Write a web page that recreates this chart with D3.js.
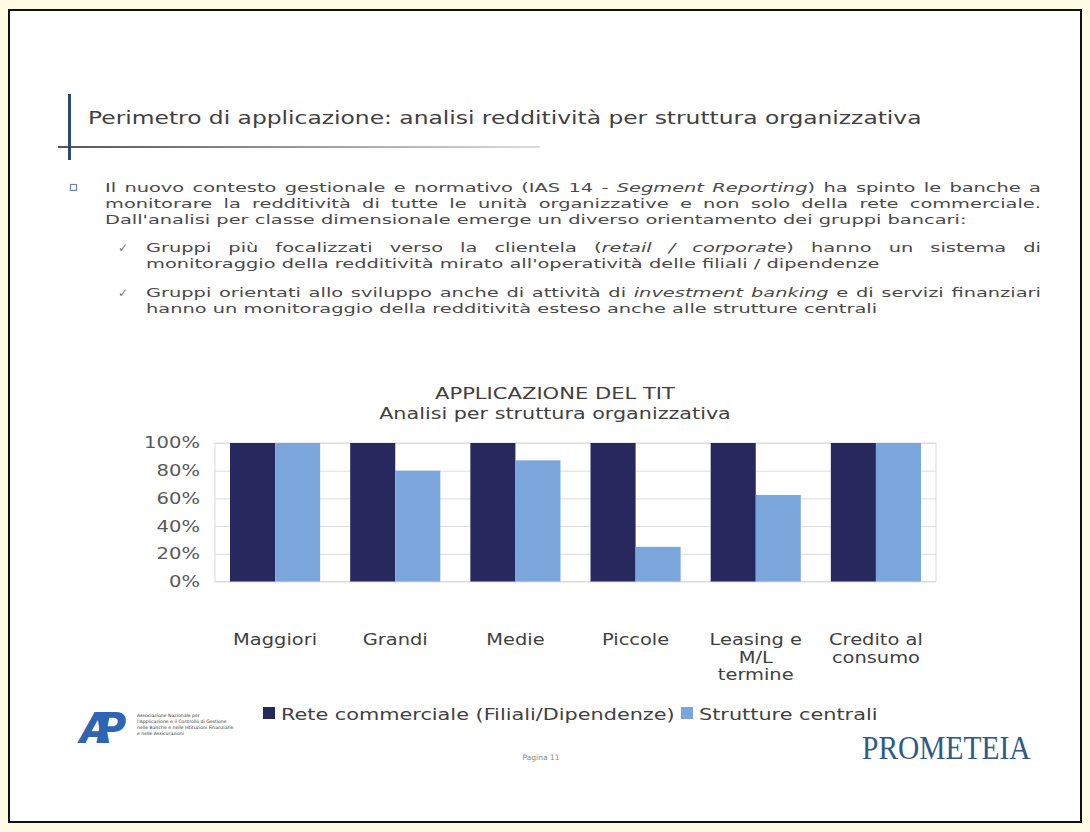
<!DOCTYPE html>
<html><head><meta charset="utf-8">
<script src="https://cdn.jsdelivr.net/npm/d3@7"></script>
<style>body{margin:0;background:#fffbe4;} svg{display:block}</style>
</head><body>
<svg id="c" width="1090" height="832"></svg>
<script>
// ---------- DATA ----------
const categories = ["Maggiori", "Grandi", "Medie", "Piccole", "Leasing e\nM/L\ntermine", "Credito al\nconsumo"];
const seriesNames = ["Rete commerciale (Filiali/Dipendenze)", "Strutture centrali"];
const reteCommerciale = [1, 1, 1, 1, 1, 1];
const struttureCentrali = [1, 0.80, 0.875, 0.25, 0.625, 1];
const yTicks = [0, 0.2, 0.4, 0.6, 0.8, 1];
const chartTitle = "APPLICAZIONE DEL TIT";
const chartSubtitle = "Analisi per struttura organizzativa";
const slideTitle = "Perimetro di applicazione: analisi redditività per struttura organizzativa";
const para1 = [
  [["Il nuovo contesto gestionale e normativo (IAS 14 - ", 0], ["Segment Reporting", 1], [") ha spinto le banche a", 0]],
  [["monitorare la redditività di tutte le unità organizzative e non solo della rete commerciale.", 0]],
  [["Dall'analisi per classe dimensionale emerge un diverso orientamento dei gruppi bancari:", 0]]
];
const check1 = [
  [["Gruppi più focalizzati verso la clientela (", 0], ["retail / corporate", 1], [") hanno un sistema di", 0]],
  [["monitoraggio della redditività mirato all'operatività delle filiali / dipendenze", 0]]
];
const check2 = [
  [["Gruppi orientati allo sviluppo anche di attività di ", 0], ["investment banking", 1], [" e di servizi finanziari", 0]],
  [["hanno un monitoraggio della redditività esteso anche alle strutture centrali", 0]]
];
const footerPage = "Pagina 11";
const brand = "PROMETEIA";
const logoText = ["Associazione Nazionale per", "l'Applicazione e il Controllo di Gestione", "nelle Banche e nelle Istituzioni Finanziarie", "e nelle Assicurazioni"];

// ---------- HELPERS ----------
const FONT = "'DejaVu Sans', Verdana, sans-serif";
const svg = d3.select("#c");
function measure(str, size, italic, family) {
  const t = svg.append("text").attr("font-family", family || FONT).attr("font-size", size)
    .attr("font-style", italic ? "italic" : "normal").text(str);
  const w = t.node().getComputedTextLength(); t.remove(); return w;
}
function fitSize(str, target, family) { return 20 * target / measure(str, 20, false, family); }
function wideText(x0, y0, str, size, sx, anchor, fill) {
  return svg.append("g").attr("transform", `translate(${x0},${y0}) scale(${sx},1)`)
    .append("text").attr("font-family", FONT).attr("font-size", size).attr("text-anchor", anchor || "start")
    .attr("fill", fill || "#404040").text(str);
}

// frame
svg.append("rect").attr("x", 0).attr("y", 0).attr("width", 1090).attr("height", 832).attr("fill", "#fffbe4");
svg.append("rect").attr("x", 9).attr("y", 10).attr("width", 1072).attr("height", 812)
  .attr("fill", "#fff").attr("stroke", "#111").attr("stroke-width", 2);

// slide header
const grad = svg.append("defs").append("linearGradient").attr("id", "hl");
grad.append("stop").attr("offset", "0%").attr("stop-color", "#555");
grad.append("stop").attr("offset", "100%").attr("stop-color", "#ddd");
svg.append("rect").attr("x", 58).attr("y", 146).attr("width", 482).attr("height", 2).attr("fill", "url(#hl)");
svg.append("rect").attr("x", 68).attr("y", 94).attr("width", 3).attr("height", 66).attr("fill", "#2c4a6e");
const tSize = 17.5;
wideText(88, 124, slideTitle, tSize, 834 / measure(slideTitle, tSize), "start", "#404040");

// body text
const bodySize = 12.8;
const bodyStretch = 862 / measure("Dall'analisi per classe dimensionale emerge un diverso orientamento dei gruppi bancari:", bodySize);
function drawLine(x0, y0, segs, width, justify) {
  const g = svg.append("g").attr("transform", `translate(${x0},${y0}) scale(${bodyStretch},1)`)
    .append("text").attr("font-family", FONT).attr("font-size", bodySize).attr("fill", "#4a4a4a");
  if (!justify) {
    g.attr("x", 0);
    segs.forEach(s => g.append("tspan").attr("font-style", s[1] ? "italic" : "normal").text(s[0]));
    return;
  }
  const words = [];
  let newWord = true;
  segs.forEach(s => {
    const parts = s[0].split(" ");
    parts.forEach((p, i) => {
      if (i > 0) newWord = true;
      if (p === "") return;
      if (newWord || words.length === 0) { words.push({ pieces: [[p, s[1]]] }); newWord = false; }
      else words[words.length - 1].pieces.push([p, s[1]]);
    });
  });
  words.forEach(w => w.w = d3.sum(w.pieces, p => measure(p[0], bodySize, p[1])));
  const total = d3.sum(words, w => w.w);
  const gap = (width / bodyStretch - total) / (words.length - 1);
  let cx = 0;
  words.forEach(w => {
    w.pieces.forEach((p, k) => {
      const ts = g.append("tspan").attr("font-style", p[1] ? "italic" : "normal").text(p[0]);
      if (k === 0) ts.attr("x", cx);
    });
    cx += w.w + gap;
  });
}
svg.append("rect").attr("x", 70.5).attr("y", 184.5).attr("width", 6).attr("height", 6)
  .attr("fill", "none").attr("stroke", "#6b86a8").attr("stroke-width", 1.2);
para1.forEach((l, i) => drawLine(105, 192 + i * 16, l, 936, i < para1.length - 1));
[[check1, 252], [check2, 297]].forEach(([blk, y0]) => {
  svg.append("text").attr("x", 118).attr("y", y0).attr("font-family", FONT).attr("font-size", 12)
    .attr("fill", "#777").text("✓");
  blk.forEach((l, i) => drawLine(146, y0 + i * 16, l, 895, i < blk.length - 1));
});

// ---------- CHART ----------
const pLeft = 215, pRight = 936, pTop = 443, pBottom = 581.5;
const x = d3.scaleBand().domain(categories).range([pLeft, pRight]).paddingInner(0.25).paddingOuter(0.125);
const xs = d3.scaleBand().domain([0, 1]).range([0, x.bandwidth()]);
const y = d3.scaleLinear().domain([0, 1]).range([pBottom, pTop]);
const colors = ["#26285e", "#7ba6dc"];

svg.append("g").attr("transform", `translate(${pLeft},0)`)
  .call(d3.axisLeft(y).tickValues(yTicks).tickSize(-(pRight - pLeft)).tickFormat(""))
  .call(g => g.select(".domain").remove())
  .call(g => g.selectAll("line").attr("stroke", "#dcdcdc"));
svg.append("rect").attr("x", pLeft).attr("y", pTop).attr("width", pRight - pLeft).attr("height", pBottom - pTop)
  .attr("fill", "none").attr("stroke", "#dcdcdc");

const series = [reteCommerciale, struttureCentrali];
series.forEach((vals, si) => {
  svg.append("g").selectAll("rect").data(vals).join("rect")
    .attr("x", (d, i) => x(categories[i]) + xs(si))
    .attr("width", xs.bandwidth())
    .attr("y", d => y(d))
    .attr("height", d => y(0) - y(d))
    .attr("fill", colors[si]);
});

const ySize = 15.5, ySx = 56 / measure("100%", ySize);
svg.append("g").attr("transform", `translate(${pLeft},0)`)
  .call(d3.axisLeft(y).tickValues(yTicks).tickSize(0).tickPadding(0).tickFormat(d3.format(".0%")))
  .call(g => g.select(".domain").remove())
  .call(g => g.selectAll("text").attr("font-family", FONT).attr("font-size", ySize).attr("fill", "#595959")
    .attr("x", -15 / ySx).attr("transform", `scale(${ySx},1)`));

const xSize = 15.5, xSx = 84 / measure("Maggiori", xSize);
const xAxis = svg.append("g").attr("transform", `translate(0,${pBottom})`)
  .call(d3.axisBottom(x).tickSize(0).tickFormat(""));
xAxis.select(".domain").remove();
xAxis.selectAll(".tick").each(function (d) {
  const t = d3.select(this).append("text").attr("font-family", FONT).attr("font-size", xSize)
    .attr("fill", "#404040").attr("text-anchor", "middle").attr("transform", `scale(${xSx},1)`);
  d.split("\n").forEach((ln, i) => t.append("tspan").attr("x", 0).attr("y", 64 + i * 17.5).text(ln));
});

const ctSize = 15.5;
wideText(555, 399, chartTitle, ctSize, 240 / measure(chartTitle, ctSize), "middle", "#404040");
wideText(555, 419, chartSubtitle, ctSize, 352 / measure(chartSubtitle, ctSize), "middle", "#404040");

const lSize = 16, lSx = 394 / measure(seriesNames[0], lSize);
let lx = 263;
seriesNames.forEach((nm, i) => {
  svg.append("rect").attr("x", lx).attr("y", 707).attr("width", 12).attr("height", 12).attr("fill", colors[i]);
  wideText(lx + 18, 720, nm, lSize, lSx, "start", "#404040");
  lx += 18 + measure(nm, lSize) * lSx + 6;
});

const logo = svg.append("g");
logo.append("text").attr("x", 80).attr("y", 743).attr("font-family", "'DejaVu Sans', sans-serif")
  .attr("font-weight", "bold").attr("font-style", "italic").attr("font-size", 42)
  .attr("letter-spacing", -17).attr("fill", "#2d64b4").text("AP");
logoText.forEach((s, i) => logo.append("text").attr("x", 137).attr("y", 717 + i * 6)
  .attr("font-family", FONT).attr("font-size", 4.6).attr("fill", "#333").text(s));
svg.append("text").attr("x", 541).attr("y", 760).attr("text-anchor", "middle").attr("font-family", FONT)
  .attr("font-size", 7.5).attr("fill", "#888").text(footerPage);
const serif = "'Liberation Serif', serif";
svg.append("g").attr("transform", "translate(862,759) scale(0.88,1)")
  .append("text").attr("font-family", serif)
  .attr("font-size", 1.14 * fitSize(brand, 168, serif)).attr("fill", "#2f5a88").text(brand);
</script>
</body></html>
